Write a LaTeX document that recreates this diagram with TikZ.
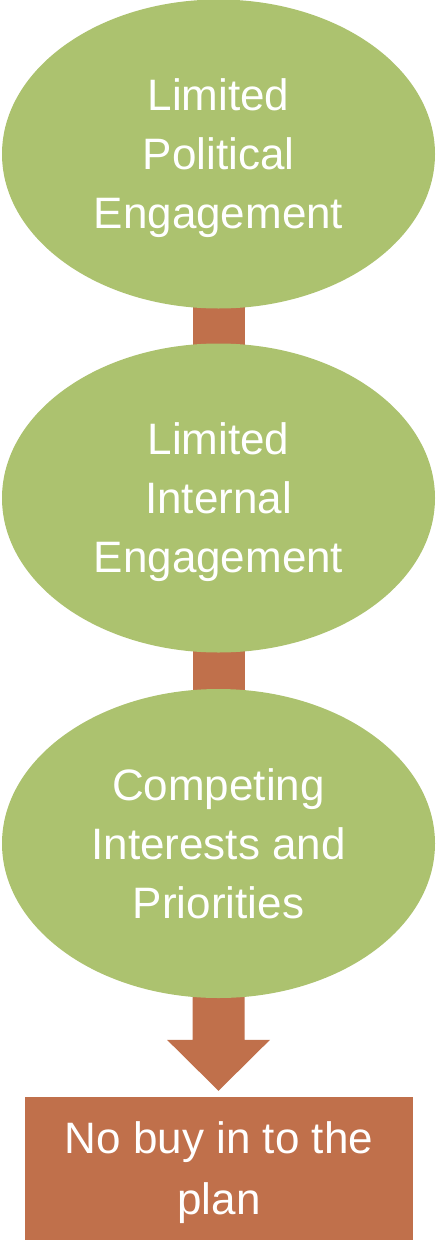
\documentclass[tikz,border=0pt]{standalone}
\usepackage{fontspec}
\setmainfont{Liberation Sans}
\usetikzlibrary{shapes.geometric,calc,backgrounds}
\definecolor{leaf}{HTML}{ACC26F}
\definecolor{clay}{HTML}{C0704B}
\tikzset{
  stage/.style={ellipse, fill=leaf, draw=none, inner sep=0pt,
    minimum width=433pt, minimum height=309pt, text=white,
    align=center, text depth=0pt, font=\fontsize{44}{59}\selectfont},
  outcome/.style={rectangle, fill=clay, draw=none, inner sep=0pt,
    minimum width=388pt, minimum height=143pt, text=white,
    align=center, text depth=0pt, font=\fontsize{44}{61}\selectfont},
  link/.style={fill=clay, draw=none}
}
\begin{document}
\begin{tikzpicture}[x=1pt,y=-1pt]
\useasboundingbox (0,0) rectangle (436,1240);
\node[stage] (e1) at (218.5,154) {Limited\\Political\\Engagement};
\node[stage] (e2) at (218.5,498) {Limited\\Internal\\Engagement};
\node[stage] (e3) at (218.5,843.5) {Competing\\Interests and\\Priorities};
\node[outcome] (out) at (219,1168.5) {No buy in to the\\plan};
\begin{scope}[on background layer]
  \fill[link] ($(e1.center)+(-26,0)$) rectangle ($(e2.center)+(26,0)$);
  \fill[link] ($(e2.center)+(-26,0)$) rectangle ($(e3.center)+(26,0)$);
  % down arrow from the last stage to the outcome box
  \coordinate (tip) at ($(out.north)+(-0.5,-6)$);
  \fill[link] ($(e3.center)+(-26,0)$) -- ($(tip)+(-26,-51)$)
    -- ($(tip)+(-51.5,-51)$) -- (tip) -- ($(tip)+(51.5,-51)$)
    -- ($(tip)+(26,-51)$) -- ($(e3.center)+(26,0)$) -- cycle;
\end{scope}
\end{tikzpicture}
\end{document}
